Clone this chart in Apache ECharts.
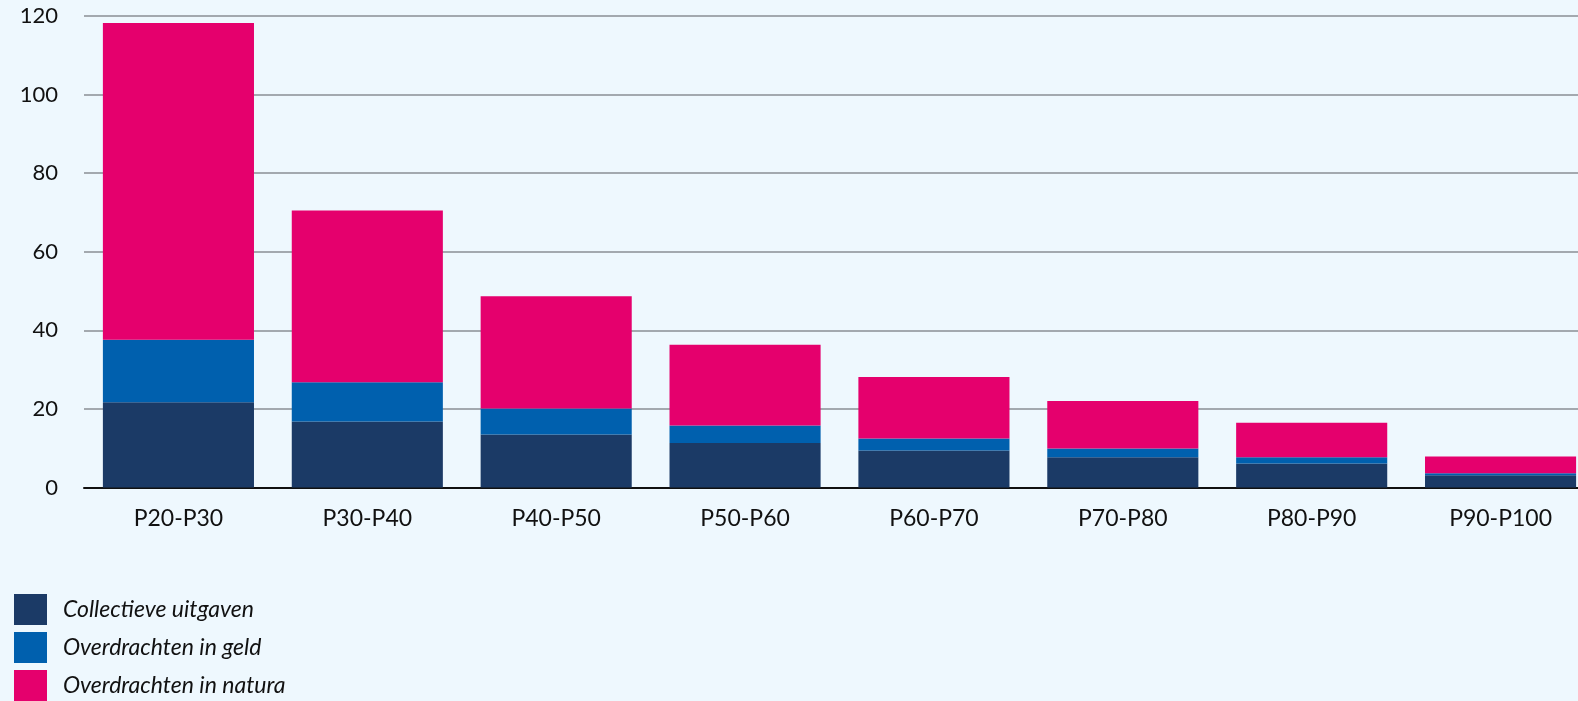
<!DOCTYPE html>
<html>
<head>
<meta charset="utf-8">
<script src="https://cdn.jsdelivr.net/npm/echarts@6/dist/echarts.min.js"></script>
<style>
html,body{margin:0;padding:0;background:#eef8fe;overflow:hidden;width:1578px;height:701px;}
#c{width:1596px;height:701px;}
</style>
</head>
<body>
<div id="c"></div>
<script>
const categories = ['P20-P30','P30-P40','P40-P50','P50-P60','P60-P70','P70-P80','P80-P90','P90-P100'];
const collectieve = [21.7, 16.8, 13.5, 11.3, 9.4, 7.7, 6.1, 3.1];
const geld = [15.9, 10.0, 6.6, 4.5, 3.1, 2.2, 1.6, 0.5];
const natura = [80.6, 43.7, 28.6, 20.5, 15.6, 12.1, 8.8, 4.3];
const seriesNames = ['Collectieve uitgaven','Overdrachten in geld','Overdrachten in natura'];
const colors = ['#1b3a66','#0060ae','#e5006d'];

const chart = echarts.init(document.getElementById('c'));
const font = 'Lato, "Open Sans", sans-serif';
chart.setOption({
  backgroundColor: '#eef8fe',
  animation: false,
  grid: {left: 84, right: 1, top: 16, bottom: 213.5, containLabel: false, outerBoundsMode: 'none'},
  legend: {
    orient: 'vertical', left: 14, top: 594, padding: 0,
    itemWidth: 33, itemHeight: 31, itemGap: 7,
    icon: 'rect',
    data: seriesNames,
    textStyle: {fontFamily: font, fontStyle: 'italic', fontSize: 23, color: '#111', padding: [0,0,0,11]}
  },
  xAxis: {
    type: 'category', data: categories,
    axisLine: {lineStyle: {color: '#111', width: 2}},
    axisTick: {alignWithLabel: true, length: 12, lineStyle: {color: '#777', width: 1}},
    axisLabel: {fontFamily: font, fontSize: 23, color: '#111', margin: 20}
  },
  yAxis: {
    type: 'value', min: 0, max: 120, interval: 20,
    axisLine: {show: false}, axisTick: {show: false},
    axisLabel: {fontFamily: font, fontSize: 22, color: '#111', margin: 26},
    splitLine: {lineStyle: {color: '#8a8f95', width: 1.5}}
  },
  series: [
    {name: seriesNames[0], type: 'bar', stack: 't', data: collectieve, itemStyle: {color: colors[0]}, barCategoryGap: '20%'},
    {name: seriesNames[1], type: 'bar', stack: 't', data: geld, itemStyle: {color: colors[1]}},
    {name: seriesNames[2], type: 'bar', stack: 't', data: natura, itemStyle: {color: colors[2]}}
  ]
});
</script>
</body>
</html>
